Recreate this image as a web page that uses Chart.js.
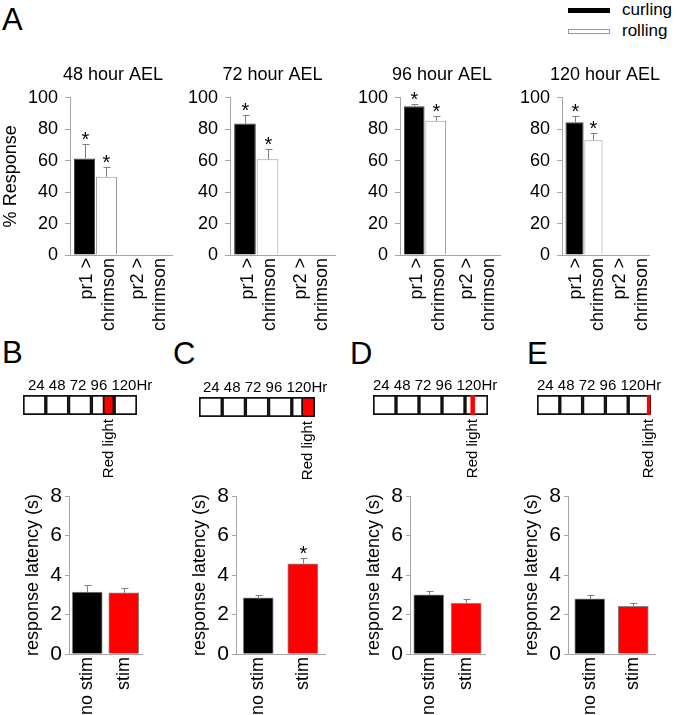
<!DOCTYPE html>
<html lang="en">
<head>
  <meta charset="UTF-8">
  <title>Response by stage</title>
  <script src="https://cdn.jsdelivr.net/npm/chart.js"></script>
  <style>
    body { margin: 0; background: #fff; }
    #page { position: relative; width: 677px; height: 715px; overflow: hidden;
            font-family: "Liberation Sans", Arial, sans-serif; color: #000; }
    #page canvas { position: absolute; }
    .letter { position: absolute; font-size: 31px; line-height: 31px; }
    .key { position: absolute; left: 568px; font-size: 17px; line-height: 20px; white-space: nowrap; }
    .swatch { display: inline-block; box-sizing: border-box; width: 42px; height: 5px;
              margin-right: 12px; vertical-align: middle; }
  </style>
</head>
<body>
  <div id="page">
    <div class="letter" style="left:2px; top:4px;">A</div>
    <div class="letter" style="left:2px; top:337px;">B</div>
    <div class="letter" style="left:173px; top:338px;">C</div>
    <div class="letter" style="left:350px; top:338px;">D</div>
    <div class="letter" style="left:527px; top:338px;">E</div>
    <div class="key" style="top:0px;"><span class="swatch" style="background:#000;"></span>curling</div>
    <div class="key" style="top:21px;"><span class="swatch" style="background:#fff; border:1px solid #999;"></span>rolling</div>
  </div>

  <script>
    // panel A: % response per stage
    const stages = ['48 hour AEL', '72 hour AEL', '96 hour AEL', '120 hour AEL'];
    const genotypes = [['pr1 >', 'chrimson'], ['pr2 >', 'chrimson']];
    const curling = [[61.4, 0], [83.6, 0], [94.6, 0], [84.4, 0]];
    const curlingErr = [[8.9, 0], [5.3, 0], [1.7, 0], [3.9, 0]];
    const rolling = [[49.7, 0], [60.8, 0], [85.3, 0], [73.0, 0]];
    const rollingErr = [[6.3, 0], [6.9, 0], [3.0, 0], [4.3, 0]];
    const genotypeSig = [true, false];

    // panels B-E: red light timing and latency
    const hourEdges = [0, 24, 48, 72, 96, 120];
    const hourLabels = ['24', '48', '72', '96', '120Hr'];
    const redLight = [[84, 96], [106, 120], [102, 106], [116, 119]];
    const conditions = ['no stim', 'stim'];
    const latency = [[3.13, 3.10], [2.84, 4.57], [2.99, 2.57], [2.79, 2.42]];
    const latencyErr = [[0.34, 0.25], [0.17, 0.30], [0.19, 0.19], [0.18, 0.15]];
    const latencySig = [[false, false], [false, true], [false, false], [false, false]];

    // where things sit on the page
    const topAxisLeft = [70, 230, 400, 562];
    const topAxisRight = [172, 335, 500, 658];
    const titleShift = [-8, -10, -8, -1];
    const botAxisLeft = [69, 236, 410, 568];
    const botAxisRight = [142, 325, 485, 655];
    const lineLeft = [23, 199, 373, 537];
    const lineRight = [137, 315, 488, 651];
    const lineTop = [395, 397, 395, 395];
    const lineTextShift = [5, 4, 0, 0];

    const axisGray = '#a6a6a6';
    Chart.defaults.font.family = '"Liberation Sans", Arial, sans-serif';
    Chart.defaults.color = '#000';

    function addCanvas(left, top, width, height) {
      const c = document.createElement('canvas');
      c.width = width;
      c.height = height;
      c.style.left = left + 'px';
      c.style.top = top + 'px';
      document.getElementById('page').appendChild(c);
      return c;
    }

    // upper error bar plus a star where significant
    const errorBars = {
      id: 'errorBars',
      afterDatasetsDraw(chart) {
        const ctx = chart.ctx;
        const yScale = chart.scales.y;
        chart.data.datasets.forEach((ds, i) => {
          if (!ds.errors) return;
          chart.getDatasetMeta(i).data.forEach((bar, j) => {
            const v = ds.data[j];
            if (!v) return;
            const top = Math.round(yScale.getPixelForValue(v + ds.errors[j])) + 0.5;
            const x = Math.round(bar.x) + 0.5;
            ctx.save();
            ctx.strokeStyle = '#808080';
            ctx.lineWidth = 1;
            ctx.beginPath();
            ctx.moveTo(x, bar.y);
            ctx.lineTo(x, top);
            ctx.moveTo(x - 3, top);
            ctx.lineTo(x + 4, top);
            ctx.stroke();
            if (ds.stars && ds.stars[j]) {
              ctx.fillStyle = '#000';
              ctx.font = '20px "Liberation Sans", Arial, sans-serif';
              ctx.textAlign = 'center';
              ctx.textBaseline = 'alphabetic';
              ctx.fillText('*', x, top + 1);
            }
            ctx.restore();
          });
        });
      }
    };

    function makeTopChart(i) {
      const yWidth = i === 0 ? 70 : 42;
      const canvas = addCanvas(topAxisLeft[i] - yWidth, 55,
                               yWidth + topAxisRight[i] - topAxisLeft[i] + 30, 300);
      new Chart(canvas, {
        type: 'bar',
        data: {
          labels: genotypes,
          datasets: [
            { label: 'curling', data: curling[i], errors: curlingErr[i], stars: genotypeSig,
              backgroundColor: '#000', borderColor: '#444', borderWidth: 1 },
            { label: 'rolling', data: rolling[i], errors: rollingErr[i], stars: genotypeSig,
              backgroundColor: '#fff', borderColor: '#999', borderWidth: 1 }
          ]
        },
        options: {
          responsive: false,
          animation: false,
          layout: { padding: { right: 30 } },
          datasets: { bar: { categoryPercentage: 0.86, barPercentage: 0.96 } },
          plugins: { legend: { display: false }, tooltip: { enabled: false } },
          scales: {
            x: {
              grid: { display: false, drawTicks: false },
              border: { color: axisGray },
              ticks: { font: { size: 18 }, minRotation: 90, maxRotation: 90, autoSkip: false,
                       padding: 3, labelOffset: -8 },
              afterFit: s => { s.height = 100; }
            },
            // stage name sits on a top axis so it is not squeezed to the plot width
            stage: {
              type: 'linear', position: 'top', min: 0, max: 1,
              grid: { display: false, drawTicks: false },
              border: { display: false },
              afterBuildTicks: s => { s.ticks = [{ value: 0.5 }]; },
              ticks: { callback: () => stages[i], font: { size: 18 }, maxRotation: 0,
                       padding: 12, labelOffset: titleShift[i] },
              afterFit: s => { s.height = 42.7; }
            },
            y: {
              min: 0, max: 100,
              ticks: { stepSize: 20, font: { size: 18 }, padding: 7 },
              grid: { drawOnChartArea: false, tickLength: 5, color: axisGray },
              border: { color: axisGray },
              title: { display: i === 0, text: '% Response', font: { size: 18 }, padding: 0 },
              afterFit: s => { s.width = yWidth; }
            }
          }
        },
        plugins: [errorBars]
      });
    }

    function makeTimeline(k) {
      const pad = 25;
      const canvas = addCanvas(lineLeft[k] - pad, lineTop[k] - 18,
                               lineRight[k] - lineLeft[k] + 2 * pad, 18 + 20 + 70);
      const boxes = hourEdges.slice(1).map((h, j) => ({
        data: [[hourEdges[j], h]],
        backgroundColor: '#fff', borderColor: '#111', borderWidth: 2, order: 2
      }));
      new Chart(canvas, {
        type: 'bar',
        data: {
          labels: [''],
          datasets: [
            { data: [redLight[k]], backgroundColor: '#ff0000', borderColor: '#111',
              borderWidth: k < 2 ? 2 : 0, order: 1 },
            ...boxes
          ]
        },
        options: {
          indexAxis: 'y',
          responsive: false,
          animation: false,
          layout: { padding: { left: pad, right: pad } },
          datasets: { bar: { grouped: false, categoryPercentage: 1, barPercentage: 1, borderSkipped: false } },
          plugins: { legend: { display: false }, tooltip: { enabled: false } },
          scales: {
            x: {
              type: 'linear', min: 0, max: 120,
              grid: { display: false, drawTicks: false },
              border: { display: false },
              afterBuildTicks: s => { s.ticks = [{ value: (redLight[k][0] + redLight[k][1]) / 2 }]; },
              ticks: { callback: () => 'Red light', minRotation: 90, maxRotation: 90, autoSkip: false,
                       padding: 4, font: { size: 15 } },
              afterFit: s => { s.height = 70; }
            },
            hours: {
              type: 'linear', position: 'top', axis: 'x', min: 0, max: 120,
              grid: { display: false, drawTicks: false },
              border: { display: false },
              afterBuildTicks: s => {
                s.ticks = [{ value: hourEdges[0] }, { value: hourEdges[hourEdges.length - 1] }];
              },
              ticks: { callback: (v, j) => (j === 0 ? hourLabels.join(' ') : ''), align: 'start',
                       autoSkip: false, maxRotation: 0, padding: 0, labelOffset: lineTextShift[k],
                       font: { size: 15 } },
              afterFit: s => { s.height = 18; }
            },
            y: { display: false }
          }
        }
      });
    }

    function makeLatency(k) {
      const yWidth = 47;
      const canvas = addCanvas(botAxisLeft[k] - yWidth, 480,
                               yWidth + botAxisRight[k] - botAxisLeft[k] + 30, 254);
      new Chart(canvas, {
        type: 'bar',
        data: {
          labels: conditions,
          datasets: [{
            data: latency[k], errors: latencyErr[k], stars: latencySig[k],
            backgroundColor: ['#000', '#ff0000'], borderColor: '#888', borderWidth: 1, barThickness: 30
          }]
        },
        options: {
          responsive: false,
          animation: false,
          layout: { padding: { top: 16, right: 30 } },
          plugins: { legend: { display: false }, tooltip: { enabled: false } },
          scales: {
            x: {
              grid: { display: false, drawTicks: false },
              border: { color: axisGray },
              ticks: { font: { size: 18 }, minRotation: 90, maxRotation: 90, autoSkip: false, padding: 3 },
              afterFit: s => { s.height = 80; }
            },
            y: {
              min: 0, max: 8,
              ticks: { stepSize: 2, font: { size: 21 }, padding: 3 },
              grid: { drawOnChartArea: false, tickLength: 4, color: axisGray },
              border: { color: axisGray },
              title: { display: true, text: 'response latency (s)', font: { size: 18 }, padding: 0 },
              afterFit: s => { s.width = yWidth; }
            }
          }
        },
        plugins: [errorBars]
      });
    }

    stages.forEach((s, i) => makeTopChart(i));
    redLight.forEach((r, k) => {
      makeTimeline(k);
      makeLatency(k);
    });
  </script>
</body>
</html>
